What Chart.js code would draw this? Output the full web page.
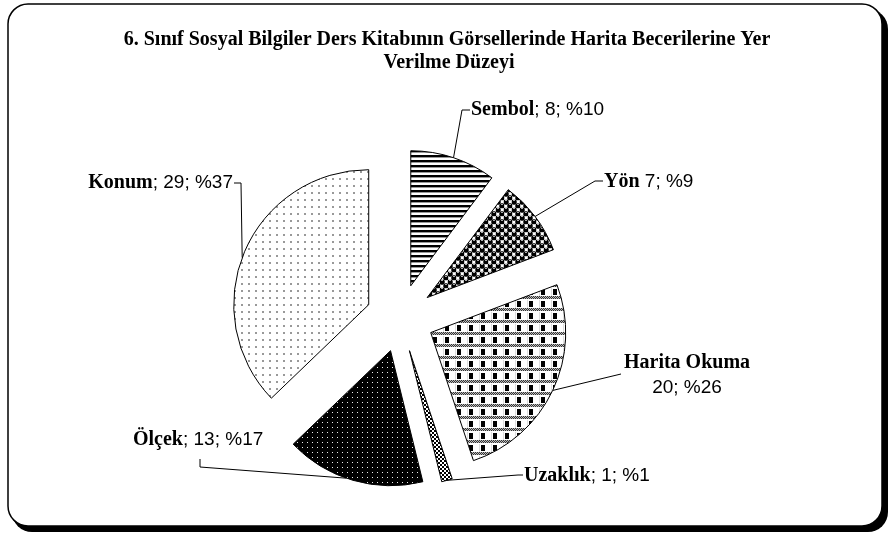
<!DOCTYPE html>
<html>
<head>
<meta charset="utf-8">
<script src="https://cdn.jsdelivr.net/npm/chart.js@4.4.1/dist/chart.umd.min.js"></script>
<style>
  html, body { margin: 0; padding: 0; background: #fff; }
  #wrap { width: 890px; height: 533px; }
</style>
</head>
<body>
<div id="wrap"><canvas id="pie" width="890" height="533"></canvas></div>
<script>
// chart data
const titleLines = ['6. Sınıf Sosyal Bilgiler Ders Kitabının Görsellerinde Harita Becerilerine Yer', 'Verilme Düzeyi'];
const categories = ['Sembol', 'Yön', 'Harita Okuma', 'Uzaklık', 'Ölçek', 'Konum'];
const counts = [8, 7, 20, 1, 13, 29];
const percents = [10, 9, 26, 1, 17, 37];
const separators = ['; ', ' ', '; ', '; ', '; ', '; '];

const EXPLODE = 34;     // how far each slice is pulled out
const RADIUS = 135;
const NAME_FONT = 'bold 20px "Liberation Serif", "Times New Roman", serif';
const TEXT_FONT = '19px "Liberation Sans", Arial, sans-serif';

// ----------------------------
// Fill patterns (black & white like the original)
// ----------------------------
function makePattern(w, h, draw) {
    const c = document.createElement('canvas');
    c.width = w; c.height = h;
    const g = c.getContext('2d');
    draw(g);
    return g.createPattern(c, 'repeat');
}

const stripes = makePattern(4, 5, g => {
    g.fillStyle = '#fff'; g.fillRect(0, 0, 4, 5);
    g.fillStyle = '#000'; g.fillRect(0, 0, 4, 2);
    g.fillStyle = '#999'; g.fillRect(0, 2, 4, 1);
});
const spheres = makePattern(8, 8, g => {
    g.fillStyle = '#fff'; g.fillRect(0, 0, 8, 8);
    g.fillStyle = '#ccc'; g.fillRect(4, 0, 4, 4); g.fillRect(0, 4, 4, 4);
    g.fillStyle = '#fff'; g.fillRect(5, 1, 2, 2); g.fillRect(1, 5, 2, 2);
    [[2, 2], [6, 6]].forEach(([x, y]) => {
        g.fillStyle = '#000';
        g.beginPath(); g.arc(x, y, 2.7, 0, Math.PI * 2); g.fill();
        g.fillStyle = '#aaa';
        g.fillRect(x - 1, y - 2, 2, 1);
    });
});
const plaid = makePattern(12, 12, g => {
    g.fillStyle = '#fff'; g.fillRect(0, 0, 12, 12);
    g.fillStyle = '#000'; g.fillRect(1, 1, 4, 6);
    for (let x = 0; x < 12; x++) {
        for (let y = 8; y < 11; y++) {
            g.fillStyle = (x + y) % 2 ? '#333' : '#bbb';
            g.fillRect(x, y, 1, 1);
        }
    }
    g.fillStyle = '#ddd'; g.fillRect(11, 0, 1, 8);
});
const checker = makePattern(4, 4, g => {
    g.fillStyle = '#fff'; g.fillRect(0, 0, 4, 4);
    g.fillStyle = '#000'; g.fillRect(0, 0, 2, 2); g.fillRect(2, 2, 2, 2);
});
const darkDots = makePattern(5, 5, g => {
    g.fillStyle = '#000'; g.fillRect(0, 0, 5, 5);
    g.fillStyle = '#eee'; g.fillRect(2, 2, 1, 1);
});
const lightDots = makePattern(7, 7, g => {
    g.fillStyle = '#fff'; g.fillRect(0, 0, 7, 7);
    g.fillStyle = '#999'; g.fillRect(3, 3, 2, 2);
});
const fills = [stripes, spheres, plaid, checker, darkDots, lightDots];

// label placement: text anchor, elbow of the leader line, where on the arc it starts
const labelLayout = [
    { x: 471, y: 110, align: 'left', elbow: [462, 110], tick: [470, 110], frac: 0.5 },
    { x: 604, y: 182, align: 'left', elbow: [595, 181], tick: [603, 181], frac: 0.5 },
    { x: 687, y: 363, align: 'stack', elbow: [621, 374], tick: null, frac: 0.5 },
    { x: 524, y: 476, align: 'left', elbow: [518, 475], tick: [523, 475], frac: 0.5 },
    { x: 133, y: 440, align: 'left', elbow: [200, 467], tick: [200, 459], frac: 0.55 },
    { x: 233, y: 183, align: 'right', elbow: [241, 183], tick: [234, 183], frac: 0.48 }
];

// ----------------------------
// Plugins
// ----------------------------
const framePlugin = {
    id: 'frame',
    beforeDraw(chart) {
        const ctx = chart.ctx;
        ctx.save();
        ctx.fillStyle = '#fff';
        ctx.fillRect(0, 0, chart.width, chart.height);
        // shadow
        ctx.fillStyle = '#000';
        ctx.beginPath(); ctx.roundRect(12, 9, 876, 523, 20); ctx.fill();
        // box
        ctx.fillStyle = '#fff';
        ctx.strokeStyle = '#000';
        ctx.lineWidth = 1.5;
        ctx.beginPath(); ctx.roundRect(8, 4, 874, 522, 20); ctx.fill(); ctx.stroke();
        // title
        ctx.fillStyle = '#000';
        ctx.font = 'bold 20px "Liberation Serif", "Times New Roman", serif';
        ctx.textAlign = 'center';
        ctx.textBaseline = 'middle';
        ctx.fillText(titleLines[0], 447, 40);
        ctx.fillText(titleLines[1], 449, 63);
        ctx.restore();
    }
};

const explodePlugin = {
    id: 'explode',
    beforeDatasetsDraw(chart) {
        const a = chart.chartArea;
        const cx = (a.left + a.right) / 2;
        const cy = (a.top + a.bottom) / 2;
        chart.getDatasetMeta(0).data.forEach(arc => {
            const mid = (arc.startAngle + arc.endAngle) / 2;
            arc.x = cx + Math.cos(mid) * EXPLODE;
            arc.y = cy + Math.sin(mid) * EXPLODE;
        });
    }
};

function drawParts(ctx, parts, x, y) {
    let cx = x;
    parts.forEach(p => {
        ctx.font = p.font;
        ctx.fillText(p.text, cx, y);
        cx += ctx.measureText(p.text).width;
    });
}
function partsWidth(ctx, parts) {
    return parts.reduce((w, p) => { ctx.font = p.font; return w + ctx.measureText(p.text).width; }, 0);
}

const labelPlugin = {
    id: 'sliceLabels',
    afterDatasetsDraw(chart) {
        const ctx = chart.ctx;
        const arcs = chart.getDatasetMeta(0).data;
        ctx.save();
        ctx.strokeStyle = '#000';
        ctx.fillStyle = '#000';
        ctx.lineWidth = 1;
        ctx.textBaseline = 'middle';
        ctx.textAlign = 'left';
        arcs.forEach((arc, i) => {
            const L = labelLayout[i];
            const ang = arc.startAngle + L.frac * (arc.endAngle - arc.startAngle);
            const px = arc.x + Math.cos(ang) * arc.outerRadius;
            const py = arc.y + Math.sin(ang) * arc.outerRadius;
            ctx.beginPath();
            ctx.moveTo(px, py);
            ctx.lineTo(L.elbow[0], L.elbow[1]);
            if (L.tick) ctx.lineTo(L.tick[0], L.tick[1]);
            ctx.stroke();

            const name = { text: categories[i], font: NAME_FONT };
            const rest = counts[i] + '; %' + percents[i];
            if (L.align === 'stack') {
                ctx.textAlign = 'center';
                ctx.font = NAME_FONT;
                ctx.fillText(categories[i], L.x, L.y);
                ctx.font = TEXT_FONT;
                ctx.fillText(rest, L.x, L.y + 25);
                ctx.textAlign = 'left';
                return;
            }
            const parts = [name, { text: separators[i] + rest, font: TEXT_FONT }];
            let x = L.x;
            if (L.align === 'right') x = L.x - partsWidth(ctx, parts);
            drawParts(ctx, parts, x, L.y);
        });
        ctx.restore();
    }
};

// ----------------------------
// Chart
// ----------------------------
new Chart(document.getElementById('pie'), {
    type: 'pie',
    data: {
        labels: categories,
        datasets: [{
            data: counts,
            backgroundColor: fills,
            borderColor: '#000',
            borderWidth: 1,
            borderJoinStyle: 'miter',
            radius: RADIUS
        }]
    },
    options: {
        responsive: false,
        animation: false,
        devicePixelRatio: 1,
        layout: { padding: { left: 0, right: 90, top: 103, bottom: 0 } },
        plugins: {
            legend: { display: false },
            tooltip: { enabled: false },
            title: { display: false }
        }
    },
    plugins: [framePlugin, explodePlugin, labelPlugin]
});
</script>
</body>
</html>
